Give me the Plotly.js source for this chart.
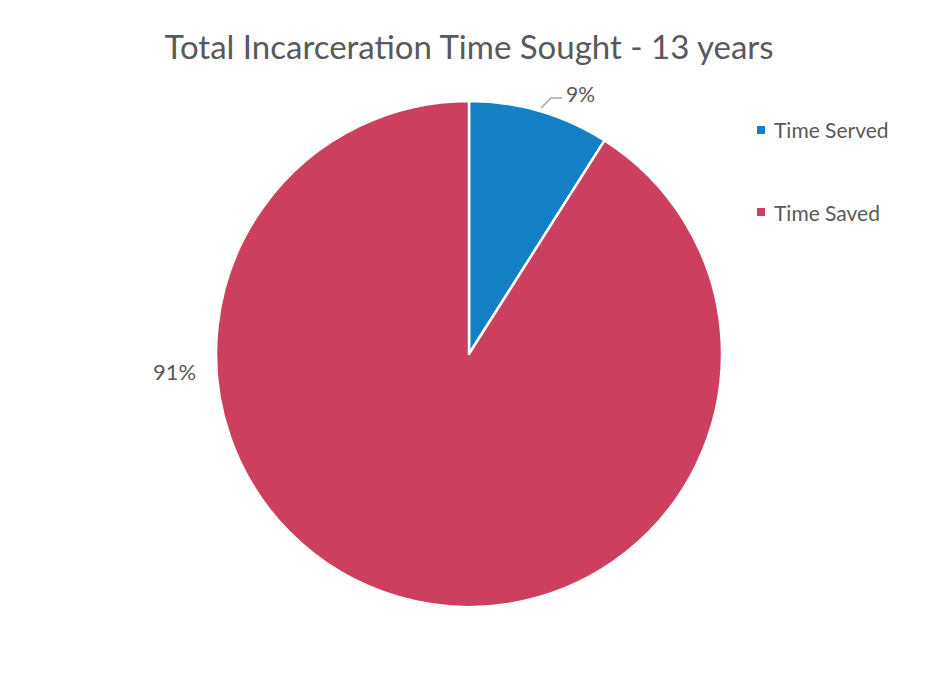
<!DOCTYPE html>
<html>
<head>
<meta charset="utf-8">
<script src="https://cdn.plot.ly/plotly-3.0.1.min.js"></script>
<style>html,body{margin:0;padding:0;background:#fff;}#chart{width:926px;height:694px;}</style>
</head>
<body>
<div id="chart"></div>
<script>
const categories = ["Time Served", "Time Saved"];
const values = [9, 91];
const colors = ["#1380c6", "#cc3f5f"];
const chartTitle = "Total Incarceration Time Sought - 13 years";

const W = 926, H = 694;
const px = x => x / W;
const py = y => 1 - y / H;

const total = values.reduce((a, b) => a + b, 0);
const pctText = values.map(v => Math.round(v / total * 100) + "%");

const textColor = "#595959";
const fontFam = "Lato, 'Open Sans', sans-serif";

const trace = {
  type: "pie",
  labels: categories,
  values: values,
  sort: false,
  direction: "clockwise",
  rotation: 0,
  textinfo: "none",
  hoverinfo: "label+percent",
  marker: { colors: colors, line: { color: "#ffffff", width: 2.5 } },
  domain: { x: [px(216), px(722)], y: [py(607), py(101)] },
  showlegend: false
};

// data labels placed like the original
const labelPos = [ {x: 580, y: 93}, {x: 174, y: 371} ];
const labelSizes = [21, 22];
const annotations = values.map((v, i) => ({
  xref: "paper", yref: "paper",
  x: px(labelPos[i].x), y: py(labelPos[i].y),
  text: pctText[i], showarrow: false,
  font: { family: fontFam, size: labelSizes[i], color: textColor },
  xanchor: "center", yanchor: "middle"
}));

// manual legend (spacing as in the original)
const legendY = [130, 212];
const shapes = [];
categories.forEach((c, i) => {
  shapes.push({
    type: "rect", xref: "paper", yref: "paper",
    x0: px(757), x1: px(765), y0: py(legendY[i] + 4), y1: py(legendY[i] - 4),
    fillcolor: colors[i], line: { width: 0 }
  });
  annotations.push({
    xref: "paper", yref: "paper",
    x: px(772), y: py(legendY[i]),
    text: c, showarrow: false,
    font: { family: fontFam, size: 21, color: textColor },
    xanchor: "left", yanchor: "middle"
  });
});

// leader line for the small slice label
shapes.push({
  type: "path", xref: "paper", yref: "paper",
  path: `M ${px(541)} ${py(108)} L ${px(551)} ${py(98)} L ${px(562)} ${py(98)}`,
  line: { color: "#a6a6a6", width: 1.5 }
});

const layout = {
  width: W, height: H,
  margin: { l: 0, r: 0, t: 0, b: 0 },
  paper_bgcolor: "#ffffff",
  plot_bgcolor: "#ffffff",
  title: {
    text: chartTitle,
    font: { family: fontFam, size: 33, color: textColor },
    x: px(469), xanchor: "center",
    y: py(47), yanchor: "middle", yref: "paper"
  },
  annotations: annotations,
  shapes: shapes,
  showlegend: false
};

Plotly.newPlot("chart", [trace], layout, { displayModeBar: false, staticPlot: true });
</script>
</body>
</html>
